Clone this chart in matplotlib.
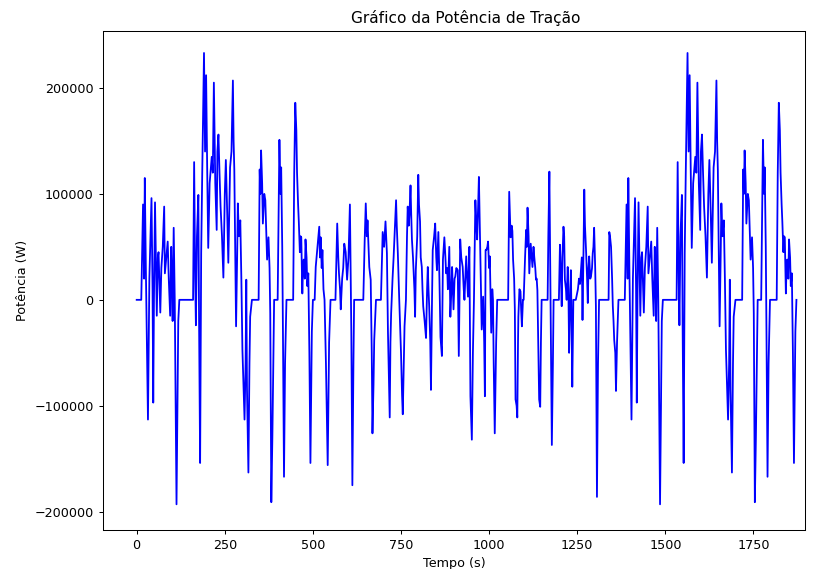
import matplotlib
matplotlib.use("Agg")
import matplotlib.pyplot as plt

# Fase 1 (partida a frio) - tempo (s) e potência (W)
cold_t = [0, 13, 18, 21, 23, 26, 28, 32, 36, 42, 45, 47, 49, 52, 55, 57, 60, 62, 65, 67,
          70, 74, 78, 80, 84, 88, 91, 95, 98, 100, 102, 105, 108, 113, 118, 121, 160, 163,
          166, 168, 171, 175, 177, 180, 183, 186, 191, 194, 197, 200, 203, 207, 213, 216,
          219, 223, 227, 229, 232, 235, 238, 242, 246, 250, 253, 257, 260, 263, 265, 269,
          273, 275, 277, 280, 282, 285, 287, 290, 294, 297, 300, 303, 306, 309, 311, 313,
          317, 320, 322, 327, 346, 349, 351, 353, 356, 358, 362, 365, 368, 370, 374, 377,
          379, 382, 385, 387, 390, 400, 405, 408, 410, 413, 415, 418, 421, 425, 444, 447,
          450, 453, 455, 458, 460, 463, 465, 467, 470, 472, 474, 477, 479, 482, 484, 487,
          490, 493, 497, 500]
cold_p = [0, 0, 90000, 20000, 115000, 30000, -16000, -113000, 20000, 96000, 10000, -97000,
          0, 92000, 30000, -15000, 40000, 45000, 10000, -12000, 30000, 50000, 88000, 25000,
          40000, 55000, 20000, -15000, 50000, 20000, -20000, 68000, 0, -193000, -20000, 0,
          0, 130000, 20000, -24000, 60000, 99000, -20000, -154000, 44000, 120000, 233000,
          140000, 212000, 125000, 49000, 110000, 135000, 120000, 205000, 110000, 66000,
          140000, 156000, 120000, 88000, 60000, 21000, 100000, 132000, 80000, 35000, 90000,
          125000, 140000, 207000, 150000, 123000, 30000, -25000, 40000, 91000, 60000, 75000,
          20000, -47000, -80000, -113000, -60000, 19000, -85000, -163000, -60000, -16000, 0,
          0, 123000, 100000, 141000, 110000, 72000, 100000, 94000, 60000, 38000, 59000,
          30000, -13000, -191000, -130000, -75000, 0, 0, 151000, 100000, 125000, 50000,
          -30000, -167000, -60000, 0, 0, 120000, 186000, 160000, 120000, 90000, 74000, 45000,
          60000, 59000, 6000, 30000, 38000, 20000, 57000, 40000, 13000, 25000, -50000,
          -154000, -30000, 0]

# Fase 2 (estabilizada)
stab_t = [505, 508, 513, 518, 520, 522, 525, 527, 530, 533, 537, 542, 546, 550, 564, 569,
          572, 574, 577, 579, 583, 586, 589, 593, 597, 601, 605, 607, 609, 612, 615, 617,
          643, 647, 650, 653, 655, 658, 660, 664, 667, 669, 672, 674, 679, 693, 698, 702,
          706, 710, 713, 716, 718, 720, 722, 726, 729, 732, 736, 738, 741, 745, 750, 753,
          755, 758, 760, 764, 767, 769, 772, 774, 777, 779, 781, 784, 786, 788, 790, 792,
          796, 799, 801, 804, 806, 809, 811, 813, 817, 821, 824, 826, 828, 830, 833, 835,
          838, 840, 844, 847, 850, 852, 856, 859, 862, 866, 869, 873, 876, 878, 881, 883,
          887, 890, 893, 895, 899, 902, 904, 907, 911, 914, 918, 921, 925, 928, 930, 935,
          940, 944, 947, 951, 954, 957, 961, 964, 966, 969, 971, 973, 976, 979, 983, 986,
          988, 990, 992, 995, 997, 1000, 1002, 1006, 1009, 1011, 1013, 1016, 1020, 1023,
          1054, 1057, 1059, 1061, 1064, 1066, 1068, 1071, 1073, 1075, 1078, 1080, 1082,
          1083, 1086, 1089, 1091, 1093, 1096, 1098, 1102, 1105, 1107, 1109, 1112, 1114,
          1116, 1118, 1121, 1123, 1126, 1128, 1131, 1133, 1135, 1137, 1140, 1142, 1145,
          1147, 1149, 1166, 1168, 1171, 1173, 1175, 1178, 1181, 1183, 1198, 1201, 1204,
          1206, 1208, 1211, 1213, 1215, 1218, 1220, 1223, 1225, 1227, 1230, 1232, 1234,
          1236, 1239, 1246, 1252, 1255, 1258, 1261, 1263, 1265, 1268, 1270, 1272, 1275,
          1278, 1280, 1282, 1284, 1287, 1289, 1292, 1294, 1296, 1298, 1301, 1303, 1306,
          1309, 1312, 1339, 1341, 1343, 1346, 1349, 1351, 1353, 1355, 1358, 1360, 1363,
          1367]
stab_p = [0, 31000, 50000, 69000, 40000, 59000, 30000, 47000, 10000, 0, -60000, -156000,
          -40000, 0, 0, 72000, 40000, 25000, 10000, -9000, 20000, 30000, 53000, 45000,
          19000, 40000, 90000, 30000, -30000, -175000, -60000, 0, 0, 57000, 91000, 60000,
          75000, 50000, 31000, 19000, -50000, -126000, -80000, -38000, 0, 0, 64000, 50000,
          74000, 44000, -31000, -80000, -111000, -40000, -13000, 20000, 40000, 63000, 94000,
          70000, 44000, 0, -50000, -90000, -108000, -60000, -25000, 0, 60000, 88000, 70000,
          81000, 108000, 80000, 57000, 40000, 25000, 10000, -16000, 28000, 60000, 118000,
          90000, 74000, 40000, 31000, 10000, -6000, -20000, -36000, 10000, 31000, 10000,
          -6000, -40000, -85000, 0, 47000, 60000, 72000, 40000, 28000, 64000, 20000, -35000,
          -53000, 38000, 59000, 40000, 25000, 30000, 10000, 50000, -16000, 10000, 31000,
          -9000, 20000, 22000, 30000, 28000, -53000, 57000, 40000, 31000, 10000, 0, 41000,
          3000, 50000, -91000, -132000, -50000, 0, 94000, 70000, 57000, 90000, 116000, 80000,
          31000, -28000, 3000, -40000, -91000, 47000, 47000, 50000, 55000, 30000, 41000,
          -31000, 10000, 0, -60000, -126000, -40000, 0, 0, 102000, 80000, 59000, 70000,
          65000, 38000, 20000, -9000, -94000, -100000, -111000, -40000, -16000, 10000, 8000,
          -10000, -25000, 0, 0, 40000, 66000, 50000, 87000, 60000, 25000, 40000, 53000,
          40000, 31000, 50000, 41000, 30000, 19000, 20000, 9000, -50000, -94000, -101000,
          -40000, 0, 0, 60000, 121000, 50000, -16000, -137000, -60000, 0, 0, 52000, 20000,
          -6000, 40000, 69000, 60000, 19000, 10000, 0, 31000, 10000, -50000, 0, 28000,
          -20000, -82000, 0, 0, 10000, 20000, 15000, 30000, 40000, -19000, 50000, 104000,
          70000, 47000, 20000, -3000, 30000, 41000, 20000, 22000, 30000, 44000, 50000, 68000,
          30000, -6000, -186000, -60000, 0, 0, 64000, 60000, 50000, 20000, -6000, -20000,
          -38000, -50000, -86000, -40000, 0]

# Fase 3 (partida a quente): repete o trecho da fase 1 a partir de t = 1372 s
hot_start = 1372
hot_t = [t + hot_start for t in cold_t]
hot_p = list(cold_p)

tempo = cold_t + stab_t + hot_t
potencia = cold_p + stab_p + hot_p

fig, ax = plt.subplots(figsize=(820 / 92, 569 / 92), dpi=92)
ax.plot(tempo, potencia, color="blue", linewidth=1.4)
ax.set_title("Gráfico da Potência de Tração", x=0.517)
ax.set_xlabel("Tempo (s)")
ax.set_ylabel("Potência (W)")
ax.set_xlim(-97, 1897)
ax.set_ylim(-217000, 254000)

fig.subplots_adjust(left=0.125, right=0.982, top=0.946, bottom=0.069)
fig.savefig("out.png")
